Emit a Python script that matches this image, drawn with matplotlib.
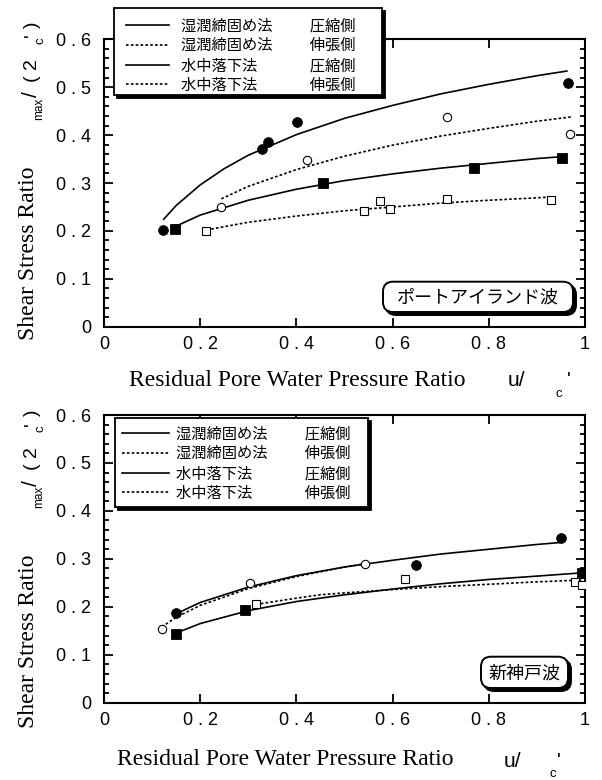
import matplotlib
matplotlib.use("Agg")
import matplotlib.pyplot as plt
from matplotlib.patches import FancyBboxPatch, Rectangle
from matplotlib.transforms import Affine2D
from matplotlib.ticker import MultipleLocator, FixedLocator, FixedFormatter

# ---------------- data ----------------
x_ticks = [0, 0.2, 0.4, 0.6, 0.8, 1.0]
x_tick_labels = ["0", "0.2", "0.4", "0.6", "0.8", "1"]
y_ticks = [0, 0.1, 0.2, 0.3, 0.4, 0.5, 0.6]
y_tick_labels = ["0", "0.1", "0.2", "0.3", "0.4", "0.5", "0.6"]

legend_methods = ["湿潤締固め法", "湿潤締固め法", "水中落下法", "水中落下法"]
legend_sides = ["圧縮側", "伸張側", "圧縮側", "伸張側"]

# Port Island wave (top)
pi_wet_comp_x = [0.123, 0.329, 0.341, 0.401, 0.964]
pi_wet_comp_y = [0.202, 0.372, 0.386, 0.428, 0.508]
pi_wet_ext_x = [0.244, 0.421, 0.714, 0.968]
pi_wet_ext_y = [0.249, 0.348, 0.438, 0.402]
pi_wp_comp_x = [0.147, 0.455, 0.770, 0.952]
pi_wp_comp_y = [0.203, 0.301, 0.331, 0.353]
pi_wp_ext_x = [0.213, 0.541, 0.573, 0.594, 0.714, 0.930]
pi_wp_ext_y = [0.200, 0.242, 0.262, 0.245, 0.267, 0.264]

pi_fit1_x = [0.123, 0.15, 0.2, 0.25, 0.3, 0.4, 0.5, 0.6, 0.7, 0.8, 0.9, 0.964]
pi_fit1_y = [0.223, 0.253, 0.296, 0.330, 0.358, 0.401, 0.435, 0.462, 0.486, 0.506, 0.524, 0.534]
pi_fit2_x = [0.244, 0.3, 0.4, 0.5, 0.6, 0.7, 0.8, 0.9, 0.972]
pi_fit2_y = [0.267, 0.293, 0.328, 0.356, 0.379, 0.398, 0.414, 0.429, 0.438]
pi_fit3_x = [0.148, 0.2, 0.3, 0.4, 0.5, 0.6, 0.7, 0.8, 0.9, 0.952]
pi_fit3_y = [0.209, 0.233, 0.264, 0.287, 0.305, 0.319, 0.331, 0.341, 0.351, 0.355]
pi_fit4_x = [0.213, 0.3, 0.4, 0.5, 0.6, 0.7, 0.8, 0.9, 0.932]
pi_fit4_y = [0.202, 0.218, 0.231, 0.242, 0.250, 0.258, 0.264, 0.269, 0.271]

# Shin-Kobe wave (bottom)
sk_wet_comp_x = [0.149, 0.649, 0.950]
sk_wet_comp_y = [0.188, 0.287, 0.344]
sk_wet_ext_x = [0.120, 0.304, 0.543]
sk_wet_ext_y = [0.154, 0.249, 0.289]
sk_wp_comp_x = [0.149, 0.294, 0.994]
sk_wp_comp_y = [0.143, 0.193, 0.270]
sk_wp_ext_x = [0.316, 0.625, 0.980, 0.994]
sk_wp_ext_y = [0.205, 0.259, 0.252, 0.245]

sk_fit1_x = [0.149, 0.2, 0.3, 0.4, 0.5, 0.6, 0.7, 0.8, 0.9, 0.948]
sk_fit1_y = [0.185, 0.209, 0.241, 0.265, 0.283, 0.297, 0.310, 0.320, 0.330, 0.334]
sk_fit2_x = [0.12, 0.15, 0.2, 0.3, 0.4, 0.5, 0.543]
sk_fit2_y = [0.158, 0.178, 0.203, 0.238, 0.263, 0.283, 0.290]
sk_fit3_x = [0.149, 0.2, 0.3, 0.4, 0.5, 0.6, 0.7, 0.8, 0.9, 0.996]
sk_fit3_y = [0.145, 0.165, 0.192, 0.211, 0.225, 0.237, 0.248, 0.257, 0.264, 0.271]
sk_fit4_x = [0.316, 0.4, 0.449, 0.5, 0.6, 0.7, 0.8, 0.9, 0.996]
sk_fit4_y = [0.205, 0.218, 0.225, 0.229, 0.236, 0.242, 0.247, 0.252, 0.256]

x_label = "Residual Pore Water Pressure Ratio"
y_label = "Shear Stress Ratio"

# ---------------- figure ----------------
W, H = 602, 780
fig = plt.figure(figsize=(W / 100, H / 100), dpi=100)
PX = Affine2D().scale(1 / 100) + fig.dpi_scale_trans

SANS = ["Liberation Sans", "DejaVu Sans"]
SERIF = ["Liberation Serif", "DejaVu Serif"]
CJK = ["Noto Sans CJK JP", "DejaVu Sans"]
plt.rcParams["font.family"] = SANS


def ptext(x, ytop, s, **kw):
    kw.setdefault("transform", PX)
    return fig.text(x, H - ytop, s, **kw)


def spaced(s):
    return " ".join(list(s))


def shadow_box(x0, x1, yt, yb, style, lw, z):
    for off, fc, zz in [(3, "k", z), (0, "white", z + 0.1)]:
        p = FancyBboxPatch((x0 + off, H - yb - off), x1 - x0, yb - yt,
                           boxstyle=style, transform=PX, fc=fc, ec="k",
                           lw=lw, zorder=zz)
        fig.add_artist(p)


DOT = (0, (1.6, 1.3))
LW = 1.2


def panel(ax, pts, fits, leg, ann, lab):
    for (fx, fy, ls) in fits:
        ax.plot(fx, fy, color="k", lw=LW, ls=ls, zorder=2, solid_capstyle="butt")
    for (px, py, mk, filled, ms) in pts:
        ax.plot(px, py, ls="none", marker=mk, ms=ms,
                mfc="k" if filled else "white", mec="k",
                mew=0.6 if filled else 0.8, zorder=3)
    ax.set_xlim(0, 1)
    ax.set_ylim(0, 0.6)
    ax.xaxis.set_major_locator(FixedLocator(x_ticks))
    ax.xaxis.set_major_formatter(FixedFormatter([spaced(t) for t in x_tick_labels]))
    ax.yaxis.set_major_locator(FixedLocator(y_ticks))
    ax.yaxis.set_major_formatter(FixedFormatter([spaced(t) for t in y_tick_labels]))
    ax.yaxis.set_minor_locator(MultipleLocator(0.02))
    ax.tick_params(which="both", direction="in", top=True, right=True, width=1.3, colors="k")
    ax.tick_params(which="major", length=6.5, labelsize=13)
    ax.tick_params(which="minor", length=3.6)
    ax.tick_params(axis="x", pad=7)
    ax.tick_params(axis="y", pad=9)
    for t in ax.get_xticklabels() + ax.get_yticklabels():
        t.set_fontfamily(SANS)
    for sp in ax.spines.values():
        sp.set_linewidth(1.5)

    # legend (frame drawn separately, with black drop shadow)
    fx0, fx1, fyt, fyb, hx, hy, hl, htp, trail = leg
    shadow_box(fx0, fx1, fyt, fyb, "square,pad=0", 1.3, 5)
    handles = []
    labels = []
    for i, (m, s) in enumerate(zip(legend_methods, legend_sides)):
        h = plt.Line2D([], [], color="k", lw=LW, ls="-" if i % 2 == 0 else DOT)
        handles.append(h)
        labels.append(m + "\u3000" * (8 - len(m)) + "  " + s + trail)
    lg = fig.legend(handles, labels, loc="upper left",
                    bbox_to_anchor=(hx, H - hy), bbox_transform=PX,
                    borderaxespad=0, frameon=False, borderpad=0,
                    prop={"family": CJK, "size": 11},
                    handlelength=hl, handletextpad=htp,
                    labelspacing=0.18)
    lg.set_zorder(6)

    # annotation box
    x0, x1, yt, yb, text = ann
    shadow_box(x0, x1, yt, yb, "round,pad=0,rounding_size=10", 1.4, 6)
    ptext((x0 + x1) / 2, (yt + yb) / 2 + 1, text, ha="center", va="center",
          family=CJK, fontsize=13, zorder=8)

    # axis labels
    (xlx, xly, ux, uy, cx, cy, ax_, ay_, dy) = lab
    ptext(xlx, xly, x_label, family=SERIF, fontsize=17)
    ptext(ux, uy, "u/", family=SANS, fontsize=15)
    ptext(cx, cy, "c", family=SANS, fontsize=9.5)
    ptext(ax_, ay_, "'", family=SANS, fontsize=15)
    rk = dict(rotation=90, rotation_mode="anchor", ha="left", va="baseline")
    ptext(33.5, 340 + dy, y_label, family=SERIF, fontsize=17, **rk)
    ptext(42, 120 + dy, "max", family=SANS, fontsize=8.5, **rk)
    ptext(37, 97 + dy, "/", family=SANS, fontsize=15, **rk)
    ptext(37, 82 + dy, "( 2", family=SANS, fontsize=14, **rk)
    ptext(43, 44 + dy, "c", family=SANS, fontsize=9.5, **rk)
    ptext(37, 37 + dy, "'", family=SANS, fontsize=14, **rk)
    ptext(37, 28 + dy, ")", family=SANS, fontsize=14, **rk)


ax1 = fig.add_axes([104 / W, 1 - 326.7 / H, 481 / W, 287.4 / H])
ax2 = fig.add_axes([104 / W, 1 - 702.7 / H, 481 / W, 287.7 / H])

panel(ax1,
      [(pi_wet_comp_x, pi_wet_comp_y, "o", True, 7.0),
       (pi_wet_ext_x, pi_wet_ext_y, "o", False, 6.0),
       (pi_wp_comp_x, pi_wp_comp_y, "s", True, 7.6),
       (pi_wp_ext_x, pi_wp_ext_y, "s", False, 6.0)],
      [(pi_fit1_x, pi_fit1_y, "-"), (pi_fit2_x, pi_fit2_y, DOT),
       (pi_fit3_x, pi_fit3_y, "-"), (pi_fit4_x, pi_fit4_y, DOT)],
      (114, 382, 8.3, 95, 126, 17.5, 2.8, 0.78, ""),
      (383, 573, 281.7, 312, "ポートアイランド波"),
      (129, 386, 508, 386, 555, 397, 567, 386, 0))

panel(ax2,
      [(sk_wet_comp_x, sk_wet_comp_y, "o", True, 7.0),
       (sk_wet_ext_x, sk_wet_ext_y, "o", False, 6.0),
       (sk_wp_comp_x, sk_wp_comp_y, "s", True, 7.6),
       (sk_wp_ext_x, sk_wp_ext_y, "s", False, 6.0)],
      [(sk_fit1_x, sk_fit1_y, "-"), (sk_fit2_x, sk_fit2_y, DOT),
       (sk_fit3_x, sk_fit3_y, "-"), (sk_fit4_x, sk_fit4_y, DOT)],
      (114.7, 368, 417.7, 507, 122, 425.5, 3.05, 0.46, ""),
      (481, 568, 656.7, 688, "新神戸波"),
      (117, 765, 504, 767, 549, 777, 557, 767, 388.5))

fig.savefig("out.png", dpi=100)
